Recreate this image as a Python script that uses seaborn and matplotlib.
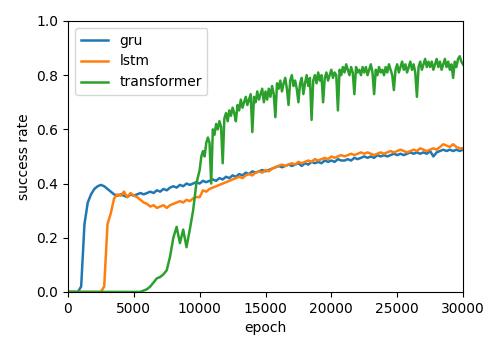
import numpy as np
import pandas as pd
import matplotlib
matplotlib.use("Agg")
import matplotlib.pyplot as plt
import seaborn as sns

epochs = list(range(0, 30001, 250))
transformer_epochs = list(range(0, 10000, 250)) + list(range(10000, 30001, 125))

gru = [
    0, 0, 0, 0, 0.02, 0.25, 0.33, 0.36, 0.38, 0.39,
    0.395, 0.39, 0.38, 0.37, 0.36, 0.355, 0.36, 0.355, 0.35, 0.36,
    0.355, 0.36, 0.365, 0.36, 0.365, 0.37, 0.365, 0.375, 0.37, 0.38,
    0.375, 0.385, 0.39, 0.385, 0.395, 0.39, 0.40, 0.395, 0.40, 0.405,
    0.40, 0.41, 0.405, 0.41, 0.415, 0.41, 0.42, 0.415, 0.425, 0.42,
    0.43, 0.425, 0.435, 0.43, 0.44, 0.435, 0.445, 0.44, 0.445, 0.45,
    0.445, 0.45, 0.455, 0.46, 0.465, 0.46, 0.465, 0.47, 0.465, 0.47,
    0.475, 0.465, 0.475, 0.47, 0.48, 0.475, 0.48, 0.475, 0.485, 0.48,
    0.485, 0.48, 0.49, 0.485, 0.485, 0.49, 0.485, 0.495, 0.49, 0.495,
    0.50, 0.495, 0.50, 0.495, 0.505, 0.50, 0.505, 0.50, 0.505, 0.51,
    0.505, 0.51, 0.505, 0.51, 0.515, 0.51, 0.515, 0.51, 0.515, 0.51,
    0.52, 0.50, 0.515, 0.52, 0.525, 0.52, 0.525, 0.52, 0.525, 0.52,
    0.525,
]

lstm = [
    0, 0, 0, 0, 0, 0, 0, 0, 0, 0,
    0, 0.02, 0.25, 0.29, 0.345, 0.36, 0.355, 0.37, 0.35, 0.365,
    0.355, 0.35, 0.34, 0.33, 0.325, 0.315, 0.32, 0.31, 0.315, 0.32,
    0.31, 0.32, 0.325, 0.33, 0.335, 0.33, 0.34, 0.335, 0.345, 0.35,
    0.35, 0.375, 0.37, 0.38, 0.385, 0.39, 0.395, 0.40, 0.405, 0.41,
    0.415, 0.42, 0.425, 0.42, 0.43, 0.435, 0.43, 0.44, 0.445, 0.44,
    0.45, 0.445, 0.455, 0.46, 0.465, 0.47, 0.465, 0.47, 0.475, 0.47,
    0.48, 0.475, 0.48, 0.485, 0.48, 0.49, 0.485, 0.49, 0.495, 0.49,
    0.50, 0.495, 0.50, 0.505, 0.50, 0.505, 0.51, 0.505, 0.51, 0.515,
    0.51, 0.515, 0.51, 0.505, 0.51, 0.515, 0.51, 0.515, 0.52, 0.515,
    0.52, 0.525, 0.52, 0.515, 0.52, 0.525, 0.52, 0.53, 0.525, 0.52,
    0.525, 0.53, 0.525, 0.535, 0.545, 0.54, 0.535, 0.545, 0.535, 0.53,
    0.53,
]

transformer = [
    # 0 .. 9750 (step 250)
    0, 0, 0, 0, 0, 0, 0, 0, 0, 0,
    0, 0, 0, 0, 0, 0, 0, 0, 0, 0,
    0, 0, 0, 0.005, 0.01, 0.02, 0.035, 0.05, 0.055, 0.065,
    0.08, 0.13, 0.20, 0.24, 0.18, 0.23, 0.165, 0.23, 0.30, 0.40,
    # 10000 .. 30000 (step 125)
    0.45, 0.50, 0.52, 0.50, 0.55, 0.57, 0.55, 0.40, 0.60, 0.58,
    0.62, 0.60, 0.63, 0.61, 0.475, 0.64, 0.66, 0.63, 0.67, 0.65,
    0.68, 0.66, 0.63, 0.69, 0.67, 0.71, 0.68, 0.70, 0.72, 0.69,
    0.71, 0.73, 0.59, 0.72, 0.70, 0.74, 0.71, 0.73, 0.75, 0.70,
    0.74, 0.71, 0.75, 0.72, 0.76, 0.73, 0.645, 0.77, 0.75, 0.78,
    0.74, 0.77, 0.79, 0.75, 0.69, 0.78, 0.80, 0.76, 0.78, 0.75,
    0.70, 0.77, 0.79, 0.73, 0.77, 0.80, 0.76, 0.79, 0.635, 0.78,
    0.80, 0.77, 0.81, 0.78, 0.80, 0.70, 0.79, 0.81, 0.78, 0.80,
    0.82, 0.79, 0.81, 0.80, 0.67, 0.82, 0.80, 0.83, 0.81, 0.84,
    0.82, 0.80, 0.83, 0.81, 0.73, 0.83, 0.81, 0.82, 0.80, 0.83,
    0.81, 0.83, 0.80, 0.82, 0.84, 0.81, 0.73, 0.82, 0.80, 0.83,
    0.81, 0.82, 0.80, 0.83, 0.81, 0.84, 0.82, 0.80, 0.745, 0.82,
    0.84, 0.81, 0.83, 0.85, 0.82, 0.84, 0.81, 0.83, 0.85, 0.82,
    0.84, 0.81, 0.72, 0.83, 0.85, 0.82, 0.84, 0.86, 0.83, 0.85,
    0.83, 0.85, 0.82, 0.84, 0.86, 0.83, 0.85, 0.82, 0.84, 0.86,
    0.83, 0.85, 0.82, 0.84, 0.79, 0.85, 0.83, 0.86, 0.87, 0.85,
    0.84,
]

series_names = ["gru", "lstm", "transformer"]
series_values = [gru, lstm, transformer]
series_epochs = [epochs, epochs, transformer_epochs]

frames = []
for name, xs, vals in zip(series_names, series_epochs, series_values):
    frames.append(pd.DataFrame({"epoch": xs, "success rate": vals, "model": name}))
df = pd.concat(frames, ignore_index=True)

fig, ax = plt.subplots(figsize=(5, 3.5), dpi=100)
fig.subplots_adjust(left=0.136, right=0.926, bottom=0.166, top=0.94)

palette = {"gru": "#1f77b4", "lstm": "#ff7f0e", "transformer": "#2ca02c"}
sns.lineplot(data=df, x="epoch", y="success rate", hue="model",
             palette=palette, estimator=None, linewidth=1.8, ax=ax)

ax.set_xlim(0, 30000)
ax.set_ylim(0, 1.0)
ax.set_xlabel("epoch")
ax.set_ylabel("success rate")
handles, labels = ax.get_legend_handles_labels()
ax.legend(handles, labels, loc="upper left")

fig.savefig("out.png", dpi=100)
